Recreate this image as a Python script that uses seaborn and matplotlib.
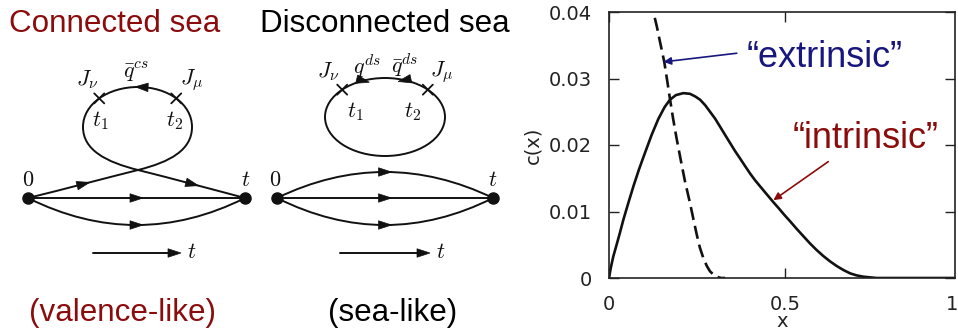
import numpy as np
import matplotlib
matplotlib.use("Agg")
import matplotlib.pyplot as plt
from matplotlib.path import Path
from matplotlib.patches import PathPatch, Polygon, Ellipse
import seaborn as sns

# ---- c(x) distributions ----
x_intrinsic = [0.000, 0.005, 0.012, 0.020, 0.030, 0.041, 0.055, 0.070, 0.085, 0.100,
               0.121, 0.140, 0.158, 0.173, 0.190, 0.211, 0.230, 0.245, 0.259, 0.273,
               0.287, 0.301, 0.315, 0.330, 0.344, 0.358, 0.372, 0.387, 0.401, 0.415,
               0.429, 0.448, 0.467, 0.482, 0.498, 0.515, 0.533, 0.552, 0.571, 0.590,
               0.609, 0.628, 0.647, 0.666, 0.685, 0.703, 0.722, 0.741, 0.760, 0.983]
c_intrinsic = [0.0000, 0.0015, 0.0032, 0.0047, 0.0066, 0.0088, 0.0113, 0.0139, 0.0163, 0.0185,
               0.0215, 0.0239, 0.0257, 0.0268, 0.0275, 0.0278, 0.0277, 0.0273, 0.0268, 0.0260,
               0.0250, 0.0240, 0.0228, 0.0215, 0.0203, 0.0191, 0.0180, 0.0168, 0.0157, 0.0147,
               0.0138, 0.0126, 0.0114, 0.0105, 0.0095, 0.0085, 0.0074, 0.0063, 0.0052, 0.0042,
               0.0033, 0.0025, 0.0018, 0.0012, 0.0007, 0.0004, 0.0002, 0.0001, 0.0000, 0.0000]

x_extrinsic = [0.115, 0.126, 0.136, 0.145, 0.157, 0.165, 0.173, 0.182, 0.192, 0.204,
               0.216, 0.230, 0.240, 0.249, 0.258, 0.268, 0.278, 0.287, 0.297, 0.306,
               0.318, 0.330]
c_extrinsic = [0.0430, 0.0400, 0.0378, 0.0355, 0.0325, 0.0298, 0.0270, 0.0240, 0.0210, 0.0177,
               0.0145, 0.0113, 0.0088, 0.0066, 0.0046, 0.0030, 0.0018, 0.0010, 0.0005, 0.0002,
               0.0000, 0.0000]

y_ticks = [0, 0.01, 0.02, 0.03, 0.04]
y_tick_labels = ["0", "0.01", "0.02", "0.03", "0.04"]
x_ticks = [0, 0.5]
x_tick_labels = ["0", "0.5"]

DARK_RED = "#8a0c0c"
NAVY = "#17177e"
INK = "#111111"
AXIS_INK = "#222222"

sns.set_theme(style="ticks")
plt.rcParams["font.family"] = ["Liberation Sans", "DejaVu Sans"]
plt.rcParams["mathtext.fontset"] = "cm"

fig = plt.figure(figsize=(9.58, 3.31), dpi=100)

# ---- diagram canvas (pixel-like coordinates, y downward) ----
cv = fig.add_axes([0, 0, 1, 1])
cv.set_xlim(0, 958)
cv.set_ylim(331, 0)
cv.axis("off")

LW = 1.4


def bez(seg, t):
    p0, p1, p2, p3 = [np.asarray(p, float) for p in seg]
    return (1 - t) ** 3 * p0 + 3 * (1 - t) ** 2 * t * p1 + 3 * (1 - t) * t ** 2 * p2 + t ** 3 * p3


def bez_dir(seg, t):
    p0, p1, p2, p3 = [np.asarray(p, float) for p in seg]
    return 3 * (1 - t) ** 2 * (p1 - p0) + 6 * (1 - t) * t * (p2 - p1) + 3 * t ** 2 * (p3 - p2)


def draw_chain(segs):
    verts = [segs[0][0]]
    codes = [Path.MOVETO]
    for s in segs:
        verts += [s[1], s[2], s[3]]
        codes += [Path.CURVE4] * 3
    cv.add_patch(PathPatch(Path(verts, codes), fill=False, ec=INK, lw=LW))


def head(center, direction, length=13, width=8.5):
    d = np.asarray(direction, float)
    d = d / np.hypot(*d)
    n = np.array([-d[1], d[0]])
    c = np.asarray(center, float)
    tip = c + d * length / 2
    base = c - d * length / 2
    cv.add_patch(Polygon([tip, base + n * width / 2, base - n * width / 2],
                         closed=True, fc=INK, ec=INK, lw=0.5))


def quad_arc(p0, p1, apex_y):
    # quadratic arc between two vertices, expressed as a cubic
    ctrl_y = 2 * apex_y - p0[1]
    mx = (p0[0] + p1[0]) / 2
    c = np.array([mx, ctrl_y])
    a, b = np.asarray(p0, float), np.asarray(p1, float)
    return (a, a + 2 / 3 * (c - a), b + 2 / 3 * (c - b), b)


def cross(pt, s=5):
    x, y = pt
    cv.plot([x - s, x + s], [y - s, y + s], color=INK, lw=1.3)
    cv.plot([x - s, x + s], [y + s, y - s], color=INK, lw=1.3)


def label(x, y, s, size=16):
    cv.text(x, y, s, ha="center", va="center", fontsize=size, color=INK)


def vertices_and_lines(v0, v1, upper_apex=None, lower_apex=225):
    cv.plot([v0[0], v1[0]], [v0[1], v1[1]], color=INK, lw=LW)
    mid = ((v0[0] + v1[0]) / 2, v0[1])
    head(mid, (1, 0))
    low = quad_arc(v0, v1, lower_apex)
    draw_chain([low])
    head(bez(low, 0.5), bez_dir(low, 0.5))
    if upper_apex is not None:
        up = quad_arc(v0, v1, upper_apex)
        draw_chain([up])
        head(bez(up, 0.5), bez_dir(up, 0.5))
    cv.plot([v0[0], v1[0]], [v0[1], v1[1]], "o", color=INK, ms=8)


def time_arrow(x0, x1, y):
    cv.plot([x0, x1 - 8], [y, y], color=INK, lw=LW)
    head((x1 - 6.5, y), (1, 0))
    label(x1 + 11, y, r"$t$")


# -- connected sea --
P0, X, R, T, L, E = (28, 198), (138, 170), (192, 127), (138, 87), (83, 127), (245, 198)
s1 = (P0, (65, 189), (102, 179), X)
s2 = (X, (170, 162), (192, 150), R)
s3 = (R, (192, 104), (168, 87), T)
s4 = (T, (108, 87), (83, 104), L)
s5 = (L, (83, 150), (106, 162), X)
s6 = (X, (174, 179), (211, 189), E)
draw_chain([s1, s2, s3, s4, s5, s6])
head(bez(s1, 0.5), bez_dir(s1, 0.5))
head(bez(s3, 0.96), bez_dir(s3, 0.96))
head(bez(s6, 0.5), bez_dir(s6, 0.5))
cross(bez(s4, 0.5))
cross(bez(s3, 0.5))
vertices_and_lines(P0, E)
label(87, 80, r"$J_\nu$")
label(136, 72, r"$\bar{q}^{cs}$")
label(192, 80, r"$J_\mu$")
label(100, 121, r"$t_1$")
label(175, 121, r"$t_2$")
label(28, 180, r"$0$")
label(246, 181, r"$t$")
time_arrow(93, 181, 253)

# -- disconnected sea --
V0, V1 = (277, 198), (493, 198)
cv.add_patch(Ellipse((385, 117), 120, 78, fill=False, ec=INK, lw=LW))
for ang in (np.deg2rad(135.5), np.deg2rad(44.5)):
    cross((385 + 60 * np.cos(ang), 117 - 39 * np.sin(ang)))
for ang, dirn in ((np.deg2rad(111.5), (1, 0.25)), (np.deg2rad(71), (-1, 0.22))):
    head((385 + 60 * np.cos(ang), 117 - 39 * np.sin(ang)), dirn)
vertices_and_lines(V0, V1, upper_apex=172)
label(328, 72, r"$J_\nu$")
label(367, 66, r"$q^{ds}$")
label(405, 65, r"$\bar{q}^{ds}$")
label(442, 72, r"$J_\mu$")
label(355, 112, r"$t_1$")
label(413, 112, r"$t_2$")
label(275, 180, r"$0$")
label(493, 181, r"$t$")
time_arrow(340, 430, 253)

# -- headings --
cv.text(115, 32, "Connected sea", ha="center", va="baseline", fontsize=22.6, color=DARK_RED)
cv.text(385, 32.5, "Disconnected sea", ha="center", va="baseline", fontsize=22.6, color="black")
cv.text(123, 321, "(valence-like)", ha="center", va="baseline", fontsize=22.6, color=DARK_RED)
cv.text(393, 321, "(sea-like)", ha="center", va="baseline", fontsize=22.6, color="black")

# ---- c(x) plot ----
ax = fig.add_axes([609 / 958, (331 - 278) / 331, (955 - 609) / 958, (278 - 12) / 331])
sns.lineplot(x=x_intrinsic, y=c_intrinsic, ax=ax, color=INK, lw=1.9,
             sort=False, estimator=None)
sns.lineplot(x=x_extrinsic, y=c_extrinsic, ax=ax, color=INK, lw=1.9,
             sort=False, estimator=None)
ax.lines[-1].set_linestyle((0, (5, 2.3)))
for ln in ax.lines:
    ln.set_solid_joinstyle("round")
    ln.set_dash_joinstyle("round")

ax.set_xlim(0, 0.983)
ax.set_ylim(0, 0.04)
ax.set_xticks(x_ticks, x_tick_labels)
ax.set_yticks(y_ticks, y_tick_labels)
tick_font = {"family": ["DejaVu Sans"], "size": 14}
for lab in ax.get_xticklabels() + ax.get_yticklabels():
    lab.set_fontfamily(["DejaVu Sans"])
    lab.set_fontsize(14)
    lab.set_color(AXIS_INK)
ax.tick_params(direction="in", length=7, width=1.0, top=True, right=True,
               pad=12, color=AXIS_INK)
for sp in ax.spines.values():
    sp.set_linewidth(1.2)
    sp.set_color(AXIS_INK)
ax.set_xlabel("x", fontdict=tick_font, labelpad=-1, color=AXIS_INK)
ax.set_ylabel("c(x)", fontdict=tick_font, labelpad=5, color=AXIS_INK)
ax.annotate("1.0", xy=(1.0, 0), xycoords=("data", "axes fraction"),
            xytext=(0, -12), textcoords="offset points", ha="center", va="top",
            fontsize=14, family=["DejaVu Sans"], color=AXIS_INK,
            annotation_clip=False)

ax.text(0.392, 0.0317, "\u201cextrinsic\u201d", color=NAVY, fontsize=26,
        ha="left", va="baseline")
ax.annotate("", xy=(0.155, 0.0325), xytext=(0.363, 0.0338),
            arrowprops=dict(arrowstyle="-|>", color=NAVY, lw=1.2,
                            mutation_scale=11, shrinkA=0, shrinkB=0))
ax.text(0.523, 0.01955, "\u201cintrinsic\u201d", color=DARK_RED, fontsize=26,
        ha="left", va="baseline")
ax.annotate("", xy=(0.467, 0.0117), xytext=(0.623, 0.0175),
            arrowprops=dict(arrowstyle="-|>", color=DARK_RED, lw=1.2,
                            mutation_scale=11, shrinkA=0, shrinkB=0))

fig.savefig("out.png", dpi=100)
